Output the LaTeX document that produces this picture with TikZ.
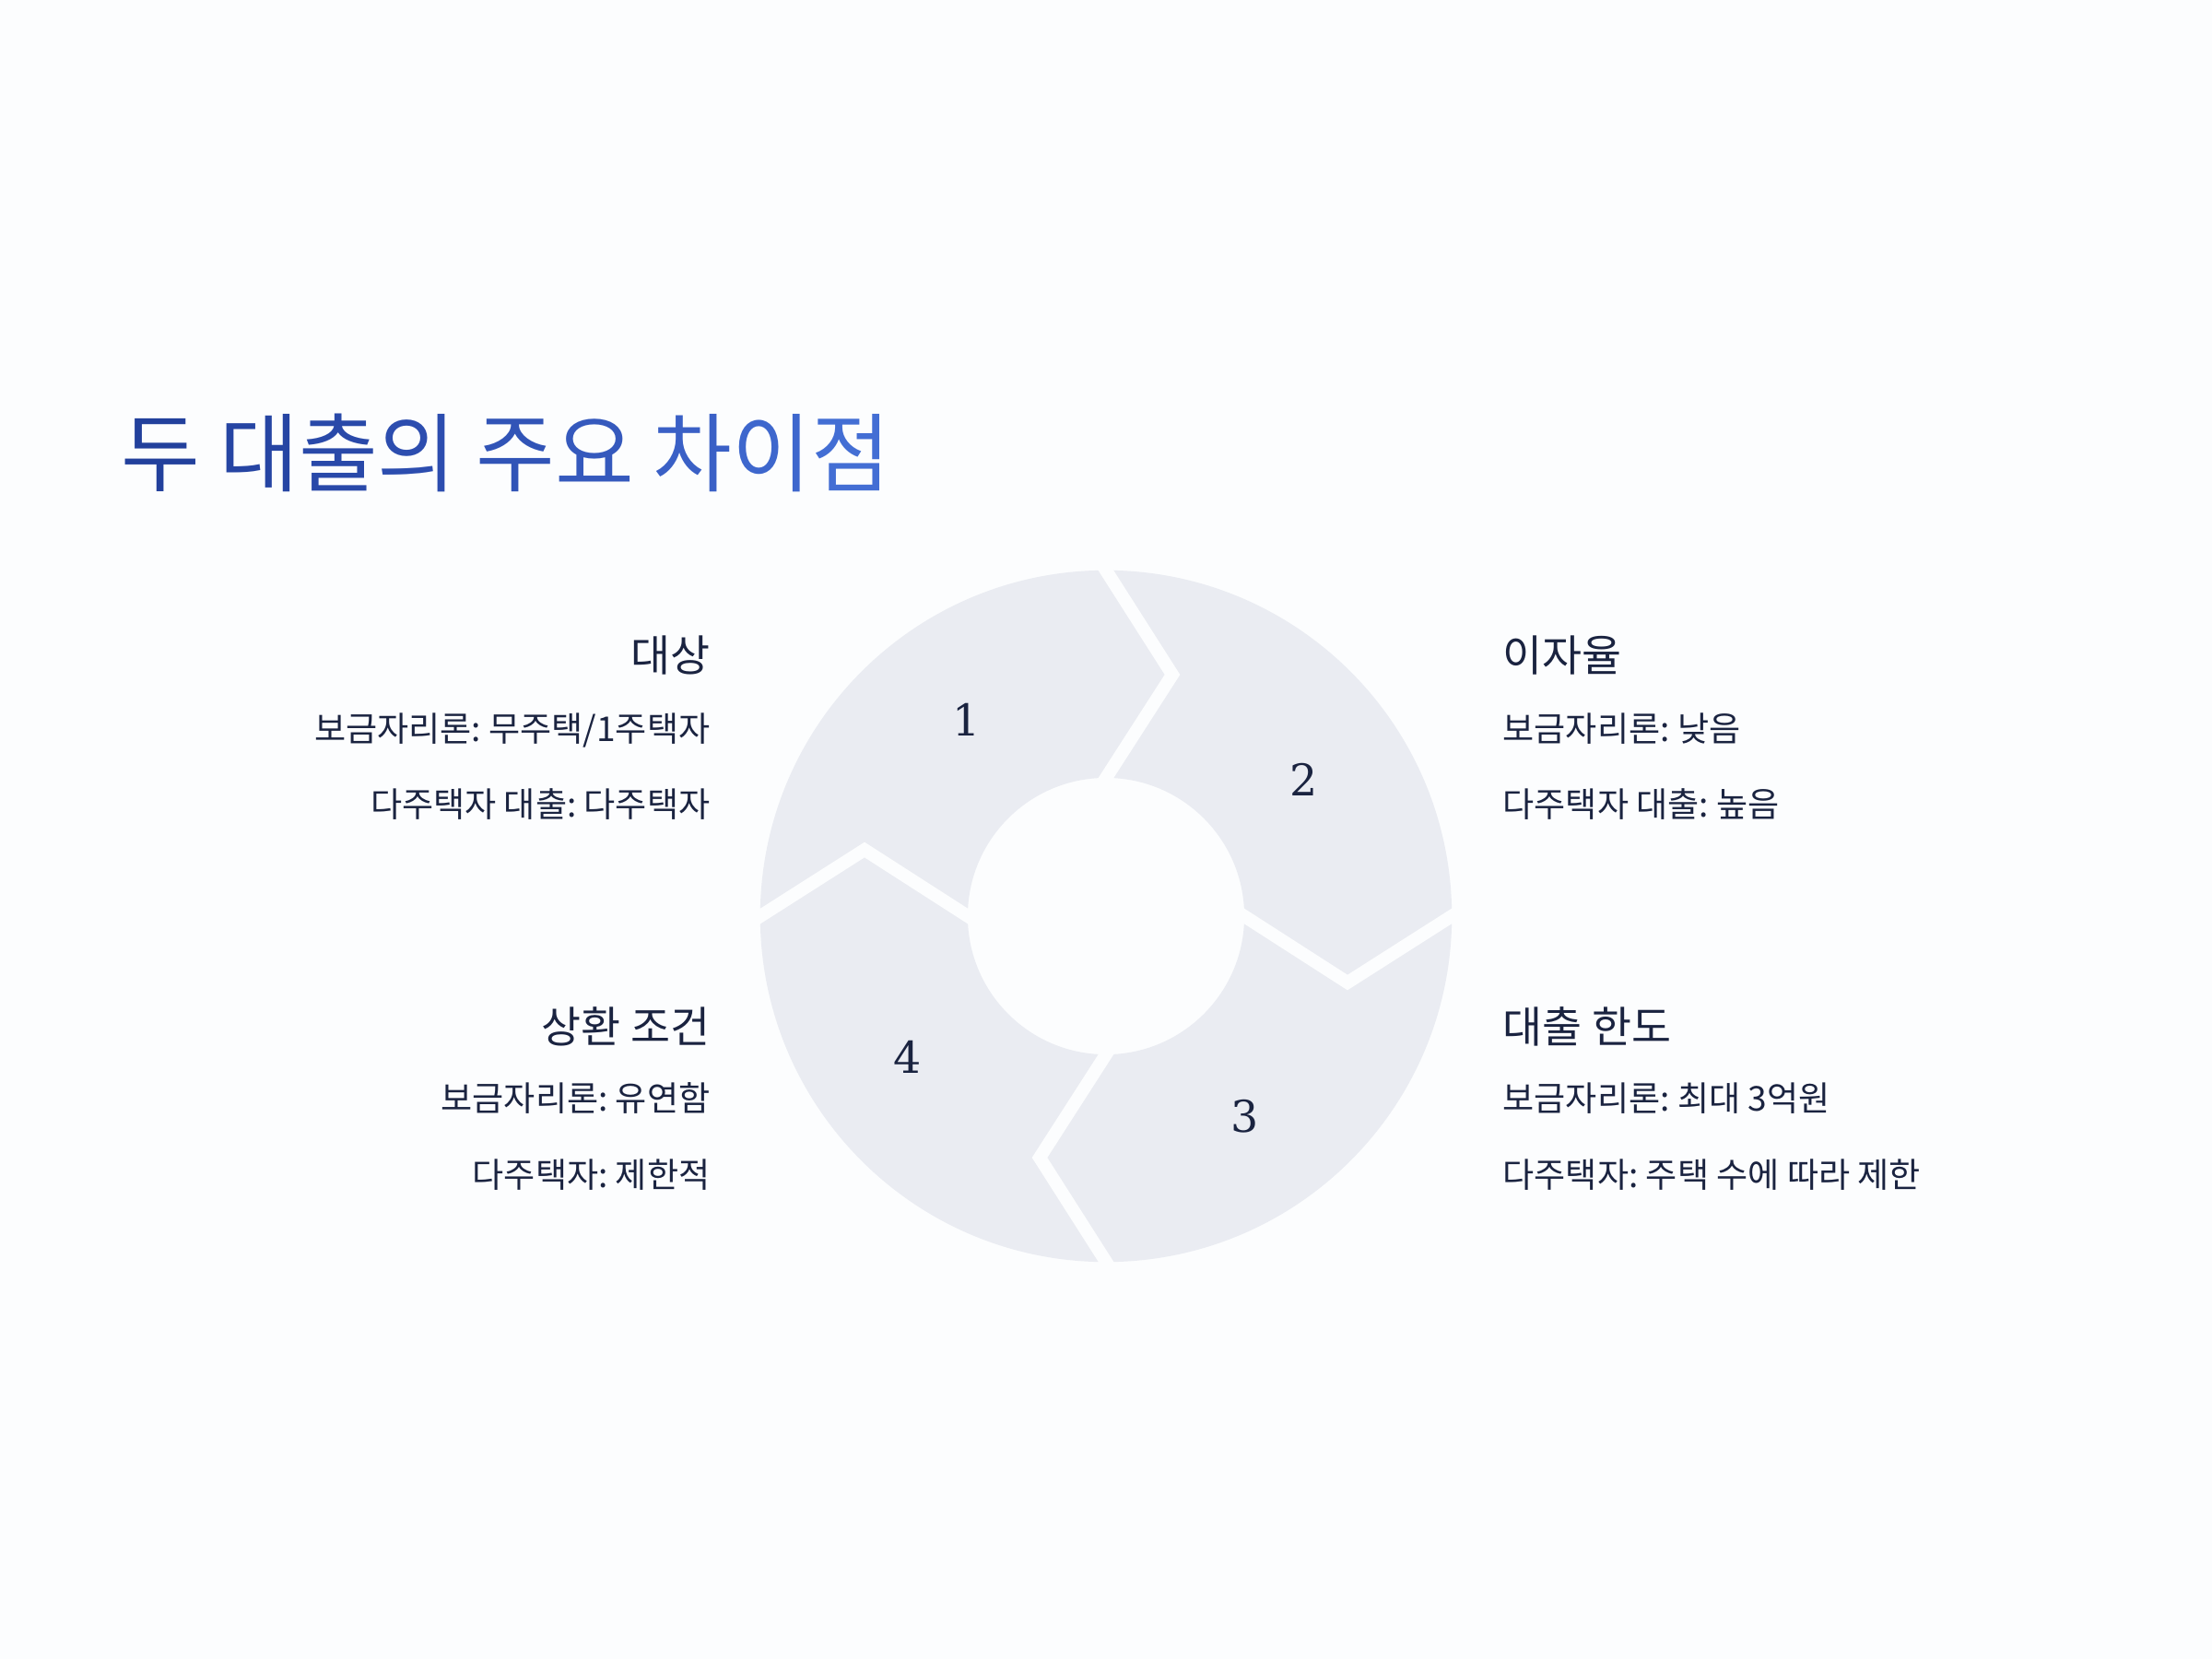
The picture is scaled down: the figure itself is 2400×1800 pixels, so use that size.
\documentclass[tikz,border=0pt]{standalone}
\usepackage{fontspec}
\setmainfont{Noto Sans CJK KR}
\newfontfamily\numfont{DejaVu Serif}
\frenchspacing
\definecolor{bg}{HTML}{FCFDFE}
\definecolor{ringc}{HTML}{EAECF2}
\definecolor{ink}{HTML}{1A2340}
\definecolor{tA}{HTML}{22409C}
\definecolor{tB}{HTML}{2645A3}
\definecolor{tC}{HTML}{2949A9}
\definecolor{tD}{HTML}{2C4DAF}
\definecolor{tE}{HTML}{3154B7}
\definecolor{tF}{HTML}{3559BD}
\definecolor{tG}{HTML}{3A60C6}
\definecolor{tH}{HTML}{3E67CD}
\definecolor{tI}{HTML}{436ED4}
\begin{document}
\begin{tikzpicture}[x=0.01cm,y=-0.01cm,
  head/.style={text=ink,inner sep=0pt,font=\fontsize{13.3pt}{16pt}\selectfont},
  body/.style={text=ink,inner sep=0pt,font=\fontsize{10.55pt}{13pt}\selectfont},
  num/.style={text=ink,inner sep=0pt,font=\numfont\fontsize{13.5pt}{16pt}\selectfont},
  gap/.style={draw=bg,line width=0.14cm,line cap=butt,line join=miter}]
\fill[bg] (0,0) rectangle (2400,1800);
\useasboundingbox (0,0) rectangle (2400,1800);
% title
\node[anchor=base west,inner sep=0pt,font=\fontsize{26.5pt}{32pt}\selectfont] (title) at (131,526)
 {\textcolor{tA}{두} \textcolor{tB}{대}\textcolor{tC}{출}\textcolor{tD}{의} \textcolor{tE}{주}\textcolor{tF}{요} \textcolor{tG}{차}\textcolor{tH}{이}\textcolor{tI}{점}};
% ring
\coordinate (c) at (1200,994);
\fill[ringc,even odd rule] (c) circle[radius=3.75cm] (c) circle[radius=1.5cm];
\foreach \a in {0,-90,-180,-270}{
  \begin{scope}[shift={(c)},rotate=\a]
    \draw[gap] (-14.4,-397.6) -- (72,-262) -- (-14.4,-127.6);
  \end{scope}
}
\node[num] (n1) at (1049,781) {1};
\node[num] (n2) at (1415,846) {2};
\node[num] (n3) at (1351,1211) {3};
\node[num] (n4) at (985,1147) {4};
% left top
\node[head,anchor=base east] (h1) at (771,728) {대상};
\node[body,anchor=base east] (h1a) at (771,804) {보금자리론: 무주택/1주택자};
\node[body,anchor=base east] (h1b) at (771,886) {다주택자 대출: 다주택자};
% right top
\node[head,anchor=base west] (h2) at (1630,728) {이자율};
\node[body,anchor=base west] (h2a) at (1630,804) {보금자리론: 낮음};
\node[body,anchor=base west] (h2b) at (1630,886) {다주택자 대출: 높음};
% right bottom
\node[head,anchor=base west] (h3) at (1630,1131) {대출 한도};
\node[body,anchor=base west] (h3a) at (1630,1205) {보금자리론: 최대 3억원};
\node[body,anchor=base west] (h3b) at (1630,1288) {다주택자: 주택 수에 따라 제한};
% left bottom
\node[head,anchor=base east] (h4) at (771,1131) {상환 조건};
\node[body,anchor=base east] (h4a) at (771,1205) {보금자리론: 유연함};
\node[body,anchor=base east] (h4b) at (771,1288) {다주택자: 제한적};
\end{tikzpicture}
\end{document}
